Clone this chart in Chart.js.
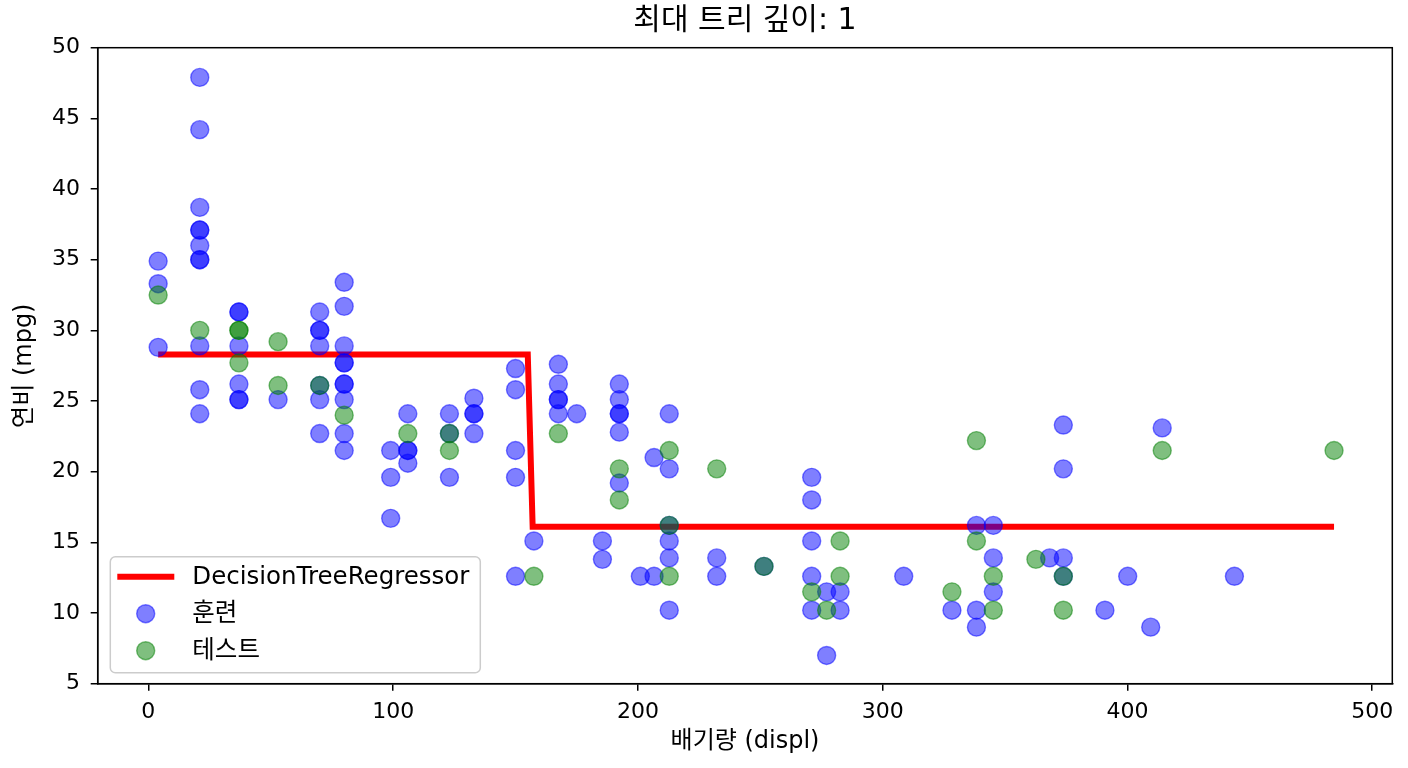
<!DOCTYPE html>
<html>
<head>
<meta charset="utf-8">
<script src="https://cdn.jsdelivr.net/npm/chart.js@4.4.1/dist/chart.umd.min.js"></script>
<style>
  html, body { margin: 0; padding: 0; background: #fff; }
  #wrap { width: 1408px; height: 768px; }
</style>
</head>
<body>
<div id="wrap"><canvas id="treeChart" width="1408" height="768"></canvas></div>
<script>
// 훈련 data (displ, mpg)
const trainDispl = [
  4, 4, 4,
  21, 21, 21, 21, 21, 21, 21, 21, 21, 21, 21,
  37, 37, 37, 37, 37, 37,
  53,
  70, 70, 70, 70, 70, 70, 70,
  80, 80, 80, 80, 80, 80, 80, 80, 80, 80,
  99, 99, 99,
  106, 106, 106, 106,
  123, 123, 123,
  133, 133, 133, 133,
  150, 150, 150, 150, 150,
  157.5,
  167.5, 167.5, 167.5, 167.5, 167.5,
  175,
  185.5, 185.5,
  192.4, 192.4, 192.4, 192.4, 192.4, 192.4,
  201,
  206.6, 206.6,
  212.8, 212.8, 212.8, 212.8, 212.8, 212.8,
  232.2, 232.2,
  251.5,
  271, 271, 271, 271, 271,
  277.1, 277.1,
  282.6, 282.6,
  308.6,
  328.3,
  338.3, 338.3, 338.3,
  345.2, 345.2, 345.2,
  368.2,
  373.8, 373.8, 373.8, 373.8,
  390.8, 400.1, 409.5, 414.2, 443.7
]
const trainMpg = [
  34.9, 33.3, 28.8,
  47.9, 44.2, 38.7, 37.1, 37.1, 36.0, 35.0, 35.0, 28.9, 25.8, 24.1,
  31.3, 31.3, 28.9, 26.2, 25.1, 25.1,
  25.1,
  31.3, 30.0, 30.0, 28.9, 26.1, 25.1, 22.7,
  33.4, 31.7, 28.9, 27.7, 27.7, 26.2, 26.2, 25.1, 22.7, 21.5,
  21.5, 19.6, 16.7,
  24.1, 21.5, 21.5, 20.6,
  24.1, 22.7, 19.6,
  25.2, 24.1, 24.1, 22.7,
  27.3, 25.8, 21.5, 19.6, 12.6,
  15.1,
  27.6, 26.2, 25.1, 25.1, 24.1,
  24.1,
  15.1, 13.8,
  26.2, 25.1, 24.1, 24.1, 22.8, 19.2,
  12.6,
  21.0, 12.6,
  24.1, 20.2, 16.2, 15.1, 13.9, 10.2,
  13.9, 12.6,
  13.3,
  19.6, 18.0, 15.1, 12.6, 10.2,
  11.5, 7.0,
  11.5, 10.2,
  12.6,
  10.2,
  16.2, 10.2, 9.0,
  16.2, 13.9, 11.5,
  13.9,
  23.3, 20.2, 13.9, 12.6,
  10.2, 12.6, 9.0, 23.1, 12.6
]
// 테스트 data
const testDispl = [4, 21, 37, 37, 37, 53, 53, 70, 80, 106, 123, 123, 157.5, 167.5, 192.4, 192.4,
  212.8, 212.8, 212.8, 232.2, 251.5, 271, 277.1, 282.6, 282.6, 328.3, 338.3, 338.3,
  345.2, 345.2, 362.6, 373.8, 373.8, 414.2, 484.4]
const testMpg = [32.5, 30.0, 30.0, 30.0, 27.7, 29.2, 26.1, 26.1, 24.0, 22.7, 22.7, 21.5, 12.6, 22.7, 20.2, 18.0,
  21.5, 16.2, 12.6, 20.2, 13.3, 11.5, 10.2, 15.1, 12.6, 11.5, 22.2, 15.1,
  12.6, 10.2, 13.8, 12.6, 10.2, 21.5, 21.5]
// tree prediction
const treeDispl = [4, 155, 157, 484.4]
const treeMpg = [28.3, 28.3, 16.1, 16.1]

const xTicks = [0, 100, 200, 300, 400, 500]
const yTicks = [5, 10, 15, 20, 25, 30, 35, 40, 45, 50]

const FONT = "'DejaVu Sans', 'Noto Sans CJK KR', sans-serif"

const toPoints = (xs, ys) => xs.map((x, i) => ({ x: x, y: ys[i] }))

const frame = {
  id: 'frame',
  afterDatasetsDraw: chart => {
    const { ctx, chartArea } = chart
    ctx.save()
    ctx.strokeStyle = '#000'
    ctx.lineWidth = 1.5
    ctx.strokeRect(chartArea.left, chartArea.top, chartArea.right - chartArea.left, chartArea.bottom - chartArea.top)
    ctx.restore()
  }
}

const legendBox = {
  id: 'legendBox',
  afterDraw: chart => {
    const { ctx, chartArea } = chart
    const x0 = chartArea.left + 12.6
    const y0 = chartArea.bottom - 127
    ctx.save()
    ctx.beginPath()
    ctx.roundRect(x0, y0, 370, 116, 5)
    ctx.fillStyle = 'rgba(255,255,255,0.8)'
    ctx.fill()
    ctx.strokeStyle = '#cccccc'
    ctx.lineWidth = 1.5
    ctx.stroke()
    ctx.font = '24.5px ' + FONT
    ctx.textBaseline = 'middle'
    chart.data.datasets.forEach((ds, i) => {
      const cy = y0 + 20 + i * 37
      if (ds.showLine) {
        ctx.strokeStyle = ds.borderColor
        ctx.lineWidth = ds.borderWidth
        ctx.beginPath()
        ctx.moveTo(x0 + 7, cy)
        ctx.lineTo(x0 + 64, cy)
        ctx.stroke()
      } else {
        ctx.beginPath()
        ctx.arc(x0 + 35.4, cy, ds.pointRadius, 0, Math.PI * 2)
        ctx.fillStyle = ds.backgroundColor
        ctx.fill()
        ctx.strokeStyle = ds.borderColor
        ctx.lineWidth = ds.borderWidth
        ctx.stroke()
      }
      ctx.fillStyle = '#000'
      ctx.fillText(ds.label, x0 + 82, cy + 1)
    })
    ctx.restore()
  }
}

new Chart(document.getElementById('treeChart').getContext('2d'), {
  type: 'scatter',
  data: {
    datasets: [
      {
        label: 'DecisionTreeRegressor',
        data: toPoints(treeDispl, treeMpg),
        showLine: true,
        borderColor: 'rgb(255,0,0)',
        borderWidth: 6,
        pointRadius: 0,
        borderCapStyle: 'butt',
        order: 3
      },
      {
        label: '훈련',
        data: toPoints(trainDispl, trainMpg),
        backgroundColor: 'rgba(0,0,255,0.5)',
        borderColor: 'rgba(0,0,255,0.5)',
        borderWidth: 1.4,
        pointRadius: 9,
        order: 2
      },
      {
        label: '테스트',
        data: toPoints(testDispl, testMpg),
        backgroundColor: 'rgba(0,128,0,0.5)',
        borderColor: 'rgba(0,128,0,0.5)',
        borderWidth: 1.4,
        pointRadius: 9,
        order: 1
      }
    ]
  },
  options: {
    responsive: false,
    animation: false,
    events: [],
    layout: { padding: { left: 0, right: 15.7, top: 0, bottom: 0 } },
    plugins: {
      legend: { display: false },
      tooltip: { enabled: false },
      title: {
        display: true,
        text: '최대 트리 깊이: 1',
        fullSize: false,
        color: '#000',
        font: { family: FONT, size: 30, weight: 'normal' },
        padding: { top: 3, bottom: 8.7 }
      }
    },
    scales: {
      x: {
        type: 'linear',
        min: -20.7,
        max: 508.2,
        afterBuildTicks: scale => { scale.ticks = xTicks.map(v => ({ value: v })) },
        afterFit: scale => {
          scale.height = 84.3
          scale.paddingLeft = 0
          scale.paddingRight = 0
        },
        grid: { display: true, drawOnChartArea: false, drawTicks: true, tickLength: 7, color: '#000', lineWidth: 1.5 },
        border: { display: true, color: '#000', width: 1.5 },
        ticks: { color: '#000', padding: 8, font: { family: FONT, size: 22 }, maxRotation: 0 },
        title: { display: true, text: '배기량 (displ)', color: '#000', font: { family: FONT, size: 24 }, padding: { top: 0, bottom: 11.5 } }
      },
      y: {
        type: 'linear',
        min: 5,
        max: 50,
        afterBuildTicks: scale => { scale.ticks = yTicks.map(v => ({ value: v })) },
        afterFit: scale => {
          scale.width = 97.7
          scale.paddingTop = 0
          scale.paddingBottom = 0
        },
        grid: { display: true, drawOnChartArea: false, drawTicks: true, tickLength: 7, color: '#000', lineWidth: 1.5 },
        border: { display: true, color: '#000', width: 1.5 },
        ticks: { color: '#000', padding: 10.6, font: { family: FONT, size: 22 } },
        title: { display: true, text: '연비 (mpg)', color: '#000', font: { family: FONT, size: 24 }, padding: { top: 10.5, bottom: 0 } }
      }
    }
  },
  plugins: [frame, legendBox]
})
</script>
</body>
</html>
